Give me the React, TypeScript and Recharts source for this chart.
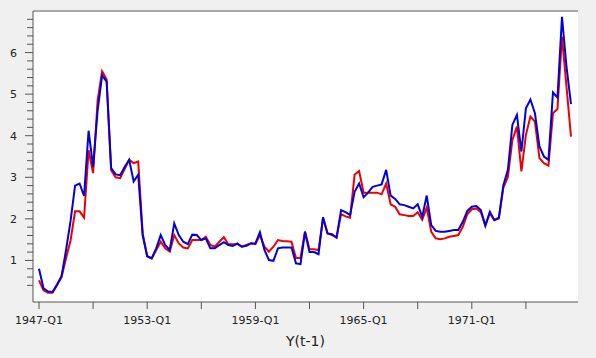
import { LineChart, Line, XAxis, YAxis, CartesianGrid, ReferenceLine } from 'recharts';

// ─── Data ─────────────────────────────────────────────────────────────────────

const START_YEAR = 1947;

// blue series (drawn on top)
const BLUE_SERIES = [
  0.80, 0.33, 0.25, 0.24, 0.42, 0.62, 1.25, 1.95, 2.80, 2.85,
  2.55, 4.12, 3.25, 4.60, 5.45, 5.30, 3.22, 3.07, 3.05, 3.25,
  3.42, 2.90, 3.06, 1.60, 1.10, 1.05, 1.29, 1.61, 1.37, 1.25,
  1.89, 1.61, 1.45, 1.39, 1.62, 1.61, 1.49, 1.53, 1.29, 1.29,
  1.37, 1.44, 1.37, 1.35, 1.41, 1.33, 1.35, 1.41, 1.41, 1.68,
  1.25, 1.01, 0.99, 1.29, 1.31, 1.31, 1.31, 0.93, 0.91, 1.68,
  1.20, 1.20, 1.15, 2.04, 1.65, 1.63, 1.55, 2.21, 2.16, 2.09,
  2.65, 2.85, 2.52, 2.63, 2.77, 2.80, 2.83, 3.18, 2.56, 2.48,
  2.35, 2.33, 2.29, 2.25, 2.35, 2.05, 2.56, 1.85, 1.71, 1.69,
  1.69, 1.71, 1.73, 1.73, 1.93, 2.19, 2.29, 2.31, 2.21, 1.84,
  2.17, 1.97, 2.03, 2.81, 3.18, 4.26, 4.50, 3.62, 4.66, 4.87,
  4.54, 3.74, 3.50, 3.42, 5.04, 4.92, 6.86, 5.66, 4.76,
];

// red series
const RED_SERIES = [
  0.52, 0.28, 0.22, 0.22, 0.40, 0.60, 1.05, 1.48, 2.18, 2.18,
  2.03, 3.65, 3.10, 4.85, 5.55, 5.35, 3.17, 3.00, 2.98, 3.20,
  3.42, 3.34, 3.38, 1.65, 1.10, 1.05, 1.25, 1.45, 1.29, 1.21,
  1.61, 1.41, 1.31, 1.29, 1.49, 1.49, 1.49, 1.57, 1.37, 1.33,
  1.45, 1.56, 1.39, 1.39, 1.39, 1.33, 1.37, 1.41, 1.39, 1.61,
  1.33, 1.21, 1.33, 1.49, 1.47, 1.46, 1.45, 1.06, 1.06, 1.70,
  1.27, 1.27, 1.25, 2.02, 1.65, 1.61, 1.55, 2.11, 2.06, 2.03,
  3.06, 3.15, 2.63, 2.63, 2.63, 2.63, 2.59, 2.85, 2.35, 2.29,
  2.11, 2.09, 2.07, 2.07, 2.16, 1.98, 2.27, 1.69, 1.53, 1.51,
  1.53, 1.57, 1.59, 1.61, 1.81, 2.11, 2.23, 2.25, 2.16, 1.84,
  2.13, 1.97, 2.01, 2.75, 3.01, 3.90, 4.22, 3.14, 4.02, 4.46,
  4.34, 3.46, 3.34, 3.28, 4.54, 4.64, 6.38, 5.18, 3.98,
];

const X_TICKS = [0, 12, 24, 36, 48, 60, 72, 84, 96, 108];
const X_TICK_LABELS = ['1947-Q1', '', '1953-Q1', '', '1959-Q1', '', '1965-Q1', '', '1971-Q1', ''];

// minor ticks every 0.2, labelled at integers
const Y_TICKS = Array.from({ length: 33 }, (_, k) => Math.round((0.4 + k * 0.2) * 10) / 10);

const QUARTERS = BLUE_SERIES.map((_, i) => `${START_YEAR + Math.floor(i / 4)}-Q${(i % 4) + 1}`);

const DATA = BLUE_SERIES.map((b, i) => ({ i, q: QUARTERS[i], blue: b, red: RED_SERIES[i] }));

// ─── Style ────────────────────────────────────────────────────────────────────

const FONT = "'DejaVu Sans', Verdana, sans-serif";
const AXIS = '#555555';
const BLUE = '#0000dd';
const RED = '#ee0000';

function YTick(props: any) {
  const { x, y, payload } = props;
  const v = payload.value;
  const major = Math.abs(v - Math.round(v)) < 1e-6;
  return (
    <g>
      <line x1={x - (major ? 8 : 6)} x2={x} y1={y} y2={y} stroke={AXIS} strokeWidth={1} />
      {major && (
        <text x={x - 16} y={y} dy="0.36em" textAnchor="end" fontSize={11} fill="#222" fontFamily={FONT}>
          {Math.round(v)}
        </text>
      )}
    </g>
  );
}

export default function App() {
  return (
    <div style={{ position: 'absolute', left: 0, top: 0, width: 596, height: 358, background: '#f0f0f0', fontFamily: FONT }}>
      <LineChart width={596} height={358} data={DATA} margin={{ top: 11, right: 18, bottom: 6, left: 0 }}>
        <CartesianGrid fill="#ffffff" stroke="none" horizontal={false} vertical={false} />
        <XAxis
          type="number"
          dataKey="i"
          domain={[0, DATA.length - 1]}
          ticks={X_TICKS}
          interval={0}
          padding={{ left: 6, right: 7 }}
          tickFormatter={(v: number) => X_TICK_LABELS[X_TICKS.indexOf(v)] ?? ''}
          tick={{ fill: '#222', fontSize: 11, fontFamily: FONT }}
          tickSize={7}
          tickMargin={7}
          stroke={AXIS}
          height={50}
          label={{ value: 'Y(t-1)', position: 'insideBottom', offset: 6, fill: '#222', fontSize: 14, fontFamily: FONT }}
        />
        <YAxis
          type="number"
          domain={[0, 7]}
          allowDataOverflow
          ticks={Y_TICKS}
          interval={0}
          width={33}
          tickSize={0}
          tickMargin={0}
          tickLine={false}
          stroke={AXIS}
          tick={YTick}
        />
        <ReferenceLine y={7} stroke="#a8a8a8" strokeWidth={2} />
        <Line type="linear" dataKey="red" stroke={RED} strokeWidth={2} dot={false} isAnimationActive={false} />
        <Line type="linear" dataKey="blue" stroke={BLUE} strokeWidth={2} dot={false} isAnimationActive={false} />
      </LineChart>
    </div>
  );
}
